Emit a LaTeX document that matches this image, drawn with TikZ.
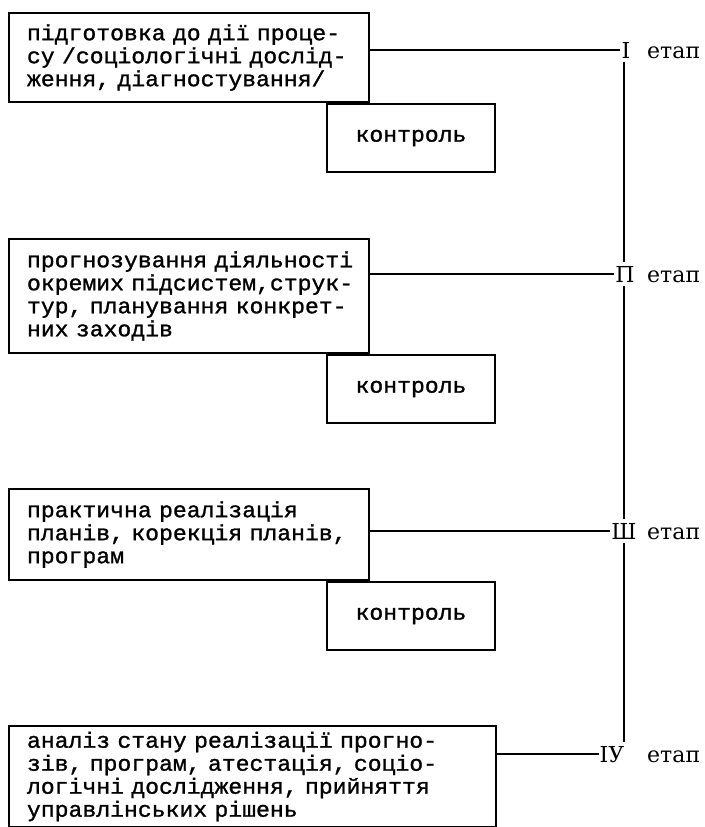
\documentclass[tikz,border=0pt]{standalone}
\usepackage{fontspec}
\newfontfamily\typefont[FakeStretch=1.05,FakeBold=1.2]{Liberation Mono}
\newfontfamily\stagefont{DejaVu Serif}
\newcommand\boxfont{\typefont\fontsize{22}{23}\selectfont}
\tikzset{
  block/.style={draw, line width=2pt, anchor=north west, align=left,
    inner xsep=0pt, inner ysep=0pt, font=\boxfont,
    execute at begin node={\leftskip=18pt\relax}},
  ctrl/.style={draw, line width=2pt, anchor=north west, font=\boxfont,
    minimum width=168, minimum height=68},
  roman/.style={anchor=base, inner xsep=1pt, inner ysep=4pt,
    font=\stagefont\fontsize{22}{22}\selectfont},
  stage/.style={anchor=base west, inner sep=0pt,
    font=\stagefont\fontsize{22}{22}\selectfont},
  link/.style={line width=1.6pt}
}
\begin{document}
\begin{tikzpicture}[x=1pt,y=-1pt]
        \useasboundingbox (0,0) rectangle (704,827);

        % Draw the four stage blocks
        \node[block, text width=360, minimum height=89] (b1) at (8,12)
          {підготовка до дії проце-\\су /соціологічні дослід-\\ження, діагностування/};
        \node[block, text width=360, minimum height=114] (b2) at (8,238)
          {прогнозування діяльності\\окремих підсистем,струк-\\тур, планування конкрет-\\них заходів};
        \node[block, text width=360, minimum height=91] (b3) at (8,488)
          {практична реалізація\\планів, корекція планів,\\програм};
        \node[block, text width=487, minimum height=101] (b4) at (8,725)
          {аналіз стану реалізації прогно-\\зів, програм, атестація, соціо-\\логічні дослідження, прийняття\\управлінських рішень};

        % Draw the control boxes under the first three blocks
        \node[ctrl, xshift=318] (c1) at (b1.south west) {контроль};
        \node[ctrl, xshift=318] (c2) at (b2.south west) {контроль};
        \node[ctrl, xshift=318] (c3) at (b3.south west) {контроль};

        % Draw the stage labels on the right
        \coordinate (spine) at (624,0);
        \node[roman] (r1) at (626,58) {I};
        \node[stage] (e1) at (647,58) {етап};
        \node[roman] (r2) at (625,282) {П};
        \node[stage] (e2) at (647,282) {етап};
        \node[roman] (r3) at (624,539) {Ш};
        \node[stage] (e3) at (647,539) {етап};
        \node[roman] (r4) at (612,762) {IУ};
        \node[stage] (e4) at (647,762) {етап};

        % Draw the lines from the blocks to the stages
        \draw[link] (r1.west -| b1.east) -- (r1.west);
        \draw[link] (r2.west -| b2.east) -- (r2.west);
        \draw[link] (r3.west -| b3.east) -- (r3.west);
        \draw[link] (r4.west -| b4.east) -- (r4.west);

        % Draw the vertical line joining the stages
        \draw[link] (r1.south -| spine) -- (r2.north -| spine);
        \draw[link] (r2.south -| spine) -- (r3.north -| spine);
        \draw[link] (r3.south -| spine) -- (r4.north -| spine);
    \end{tikzpicture}
\end{document}
